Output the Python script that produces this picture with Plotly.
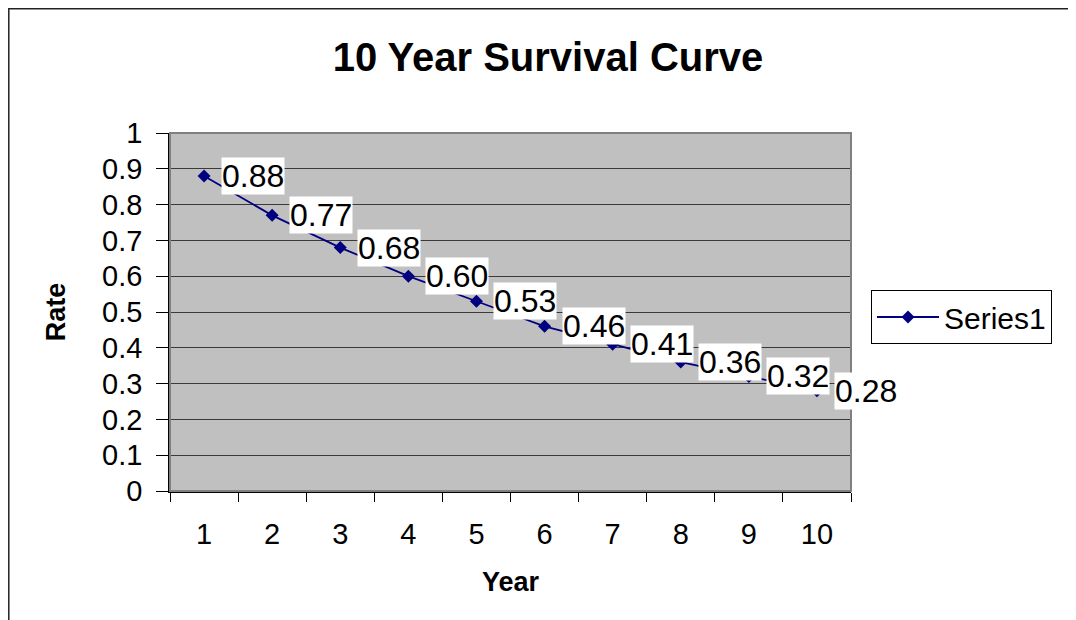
import plotly.graph_objects as go

years = ["1", "2", "3", "4", "5", "6", "7", "8", "9", "10"]
rates = [0.88, 0.77, 0.68, 0.60, 0.53, 0.46, 0.41, 0.36, 0.32, 0.28]
y_ticks = [0, 0.1, 0.2, 0.3, 0.4, 0.5, 0.6, 0.7, 0.8, 0.9, 1]
y_tick_text = ["0", "0.1", "0.2", "0.3", "0.4", "0.5", "0.6", "0.7", "0.8", "0.9", "1"]
series_name = "Series1"

FONT = "Liberation Sans, Arial, sans-serif"
NAVY = "#000080"

# page has 8px body margin; figure is offset by OFF
OFF = 8
W, H = 1076, 620
L, R, T, B = 170, 851, 133, 491  # plot area in page pixels

def px_x(p):
    return (p - L) / (R - L)

def px_y(p):
    return (B - p) / (B - T)

fig = go.Figure()
fig.add_trace(go.Scatter(
    x=years, y=rates, name=series_name, mode="lines+markers",
    line=dict(color=NAVY, width=1.8),
    marker=dict(symbol="diamond", size=10, color=NAVY),
))

annotations = []
for idx, (xv, yv) in enumerate(zip(years, rates)):
    # on a category axis, annotation x is the category's index
    annotations.append(dict(
        x=idx, y=yv, xref="x", yref="y", text=f"{yv:.2f}", showarrow=False,
        xanchor="left", yanchor="middle", xshift=17, yshift=0,
        bgcolor="white", borderpad=0,
        font=dict(family=FONT, size=32, color="black"),
    ))

shapes = [
    # outer chart border
    dict(type="rect", xref="paper", yref="paper",
         x0=px_x(OFF + 0.8), x1=px_x(1100), y0=px_y(650), y1=px_y(OFF + 0.8),
         line=dict(color="#222222", width=1.5), fillcolor="rgba(0,0,0,0)", layer="above"),
    # plot area border (gray)
    dict(type="rect", xref="paper", yref="paper", x0=0, x1=1, y0=0, y1=1,
         line=dict(color="#808080", width=2), fillcolor="rgba(0,0,0,0)", layer="above"),
]

fig.update_layout(
    width=W - OFF, height=H - OFF,
    margin=dict(l=L - OFF, r=W - R, t=T - OFF, b=H - B, autoexpand=False),
    paper_bgcolor="white", plot_bgcolor="#C0C0C0",
    font=dict(family=FONT, color="black"),
    title=dict(text="<b>10 Year Survival Curve</b>", x=(548 - OFF) / (W - OFF), xref="container",
               xanchor="center", y=1 - (57 - OFF) / (H - OFF), yref="container", yanchor="middle",
               font=dict(family=FONT, size=40, color="black")),
    showlegend=True,
    legend=dict(x=px_x(871), y=px_y(290), xanchor="left", yanchor="top",
                bgcolor="white", bordercolor="black", borderwidth=1,
                font=dict(family=FONT, size=30, color="black"),
                itemwidth=62, tracegroupgap=0),
    annotations=annotations,
    shapes=shapes,
)

fig.update_xaxes(
    type="category", range=[-0.5, 9.5], tickson="boundaries", ticks="outside", ticklen=9,
    tickcolor="black", tickwidth=1, showgrid=False,
    showline=True, linecolor="black", linewidth=1.5,
    tickfont=dict(family=FONT, size=29, color="black"),
    ticklabelstandoff=16,
    title=dict(text="<b>Year</b>", font=dict(family=FONT, size=27, color="black"), standoff=24),
    automargin=False, zeroline=False,
)
fig.update_yaxes(
    range=[0, 1], tickvals=y_ticks, ticktext=y_tick_text,
    ticks="outside", ticklen=12, tickcolor="black", tickwidth=1,
    showgrid=True, gridcolor="#3a3a3a", gridwidth=1.3,
    showline=True, linecolor="black", linewidth=1.5,
    tickfont=dict(family=FONT, size=29, color="black"),
    ticklabelstandoff=8,
    title=dict(text="<b>Rate</b>", font=dict(family=FONT, size=27, color="black"), standoff=29),
    automargin=False, zeroline=False,
)

fig.write_html("out.html")
